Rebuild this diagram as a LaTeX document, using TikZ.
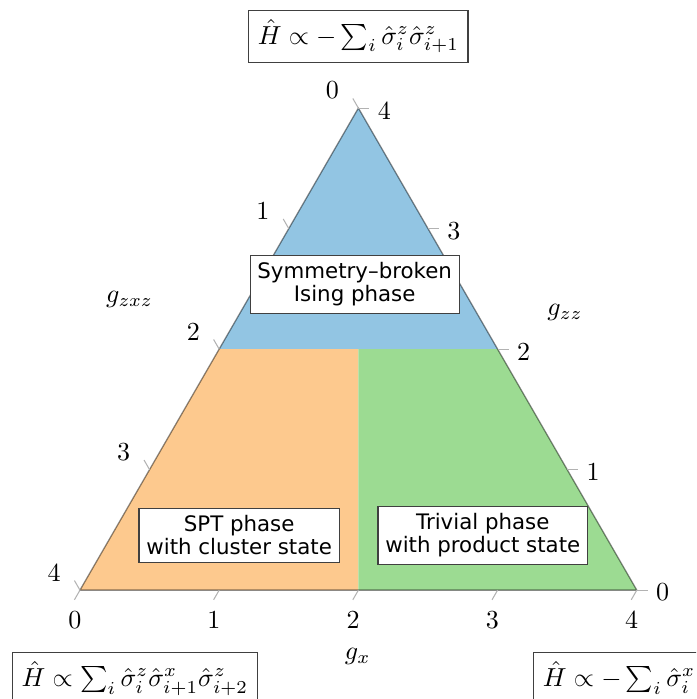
\documentclass[tikz,border=0pt]{standalone}
\usepackage{amsmath}
\usepackage{fontspec}
\newfontfamily\phasefont{DejaVu Sans}
\definecolor{phblue}{HTML}{92C5E3}
\definecolor{phorange}{HTML}{FDC98E}
\definecolor{phgreen}{HTML}{9CDB92}
\tikzset{
  phasebox/.style={draw=black!75,fill=white,line width=0.5pt,align=center,
    inner sep=2.8pt,font=\phasefont\fontsize{8.2}{8.8}\selectfont},
  hambox/.style={draw=black!75,fill=white,line width=0.5pt,inner sep=3.5pt},
  ticklab/.style={inner sep=1pt},
  tickmark/.style={black!30,line width=0.4pt}
}

\begin{document}
\begin{tikzpicture}[x=1cm,y=1cm]
  \useasboundingbox (0,0) rectangle (9.40,9.44);
  \clip (0,0) rectangle (9.40,9.44);
  % corners of the triangle
  \coordinate (A) at (1.0800,1.4700);
  \coordinate (B) at (8.6000,1.4700);
  \coordinate (C) at (4.8400,7.9800);
  % phase regions
  \fill[phblue] (2.9600,4.7250) -- (C) -- (6.7200,4.7250) -- cycle;
  \fill[phorange] (A) -- (2.9600,4.7250) -- (4.8400,4.7250) -- (4.8400,1.4700) -- cycle;
  \fill[phgreen] (4.8400,1.4700) -- (4.8400,4.7250) -- (6.7200,4.7250) -- (B) -- cycle;
  \draw[black,opacity=0.45,line width=0.5pt] (A) -- (B) -- (C) -- cycle;
  % ticks and tick labels
  \foreach \k in {0,...,4} {
    \draw[tickmark] (1.08+1.88*\k,1.47) -- ++(240:0.15);
    \node[ticklab] (bx\k) at (1.01+1.88*\k,1.065) {\k};
    \draw[tickmark] (4.84-0.94*\k,7.98-1.6275*\k) -- ++(120:0.15);
    \node[ticklab] (lf\k) at (4.49-0.94*\k,8.22-1.6275*\k) {\k};
    \draw[tickmark] (4.84+0.94*\k,7.98-1.6275*\k) -- ++(0:0.15);
    \node[ticklab] (rt\k) at (5.19+0.94*\k,7.95-1.6275*\k) {\pgfmathparse{int(4-\k)}\pgfmathresult};
  }
  % axis names
  \node (gzxz) at (1.75,5.39) {$g_{zxz}$};
  \node (gzz) at (7.63,5.22) {$g_{zz}$};
  \node (gx) at (4.83,0.57) {$g_x$};
  % phases
  \node[phasebox] (ising) at (4.79,5.60) {Symmetry–broken\\Ising phase};
  \node[phasebox] (spt) at (3.23,2.21) {SPT phase\\with cluster state};
  \node[phasebox] (triv) at (6.52,2.21) {Trivial phase\\with product state};
  % hamiltonians at the corners
  \node[hambox] (hzz) at (4.84,8.95) {$\hat{H}\propto -\sum_i \hat{\sigma}^z_i\hat{\sigma}^z_{i+1}$};
  \node[hambox,anchor=north west] (hzxz) at (0.16,0.635) {$\hat{H}\propto \sum_i \hat{\sigma}^z_i\hat{\sigma}^x_{i+1}\hat{\sigma}^z_{i+2}$};
  \node[hambox,anchor=north west] (hx) at (7.20,0.635) {$\hat{H}\propto -\sum_i \hat{\sigma}^x_i$};
\end{tikzpicture}
\end{document}
